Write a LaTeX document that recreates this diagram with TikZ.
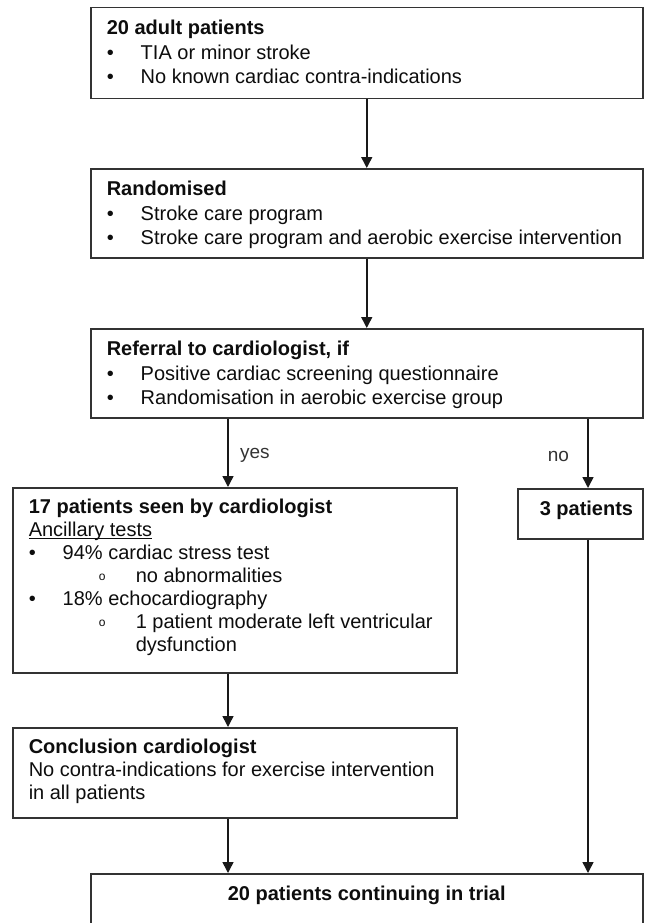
\documentclass[tikz,border=0pt]{standalone}
\usepackage{fontspec}
\setmainfont{Liberation Sans}
\usetikzlibrary{arrows.meta}

\newcommand{\bpt}{\makebox[34pt][l]{\textbullet}}
\newcommand{\spt}{\hspace*{70pt}\makebox[37pt][l]{\raisebox{2pt}{\fontsize{12}{12}\selectfont o}}}
\newcommand{\boxtext}[3]{\parbox[c][#2][t]{#1}{\raggedright\strut #3}}
\newcommand{\ultext}[1]{\underline{\raisebox{0pt}[\height][0pt]{#1}}}

\begin{document}
\begin{tikzpicture}[x=1pt, y=-1pt,
            box/.style={draw=black!80, line width=1.5pt, anchor=north west, inner xsep=16pt, inner ysep=10pt,
                        font=\fontsize{20}{24.5}\selectfont, text=black!95},
            lowbox/.style={box, font=\fontsize{20}{23}\selectfont},
            arr/.style={draw=black!90, line width=1.5pt, -{Triangle[length=11pt,width=11pt]}},
            lab/.style={font=\fontsize{19}{19}\selectfont, text=black!80}]
            \useasboundingbox (0,0) rectangle (653,923);
            \clip (0,0) rectangle (653,923);

            \node[box] (b1) at (90,7) {\boxtext{520pt}{71pt}{\textbf{20 adult patients}\\
                \bpt TIA or minor stroke\\
                \bpt No known cardiac contra-indications}};
            \node[box] (b2) at (90,168) {\boxtext{520pt}{69pt}{\textbf{Randomised}\\
                \bpt Stroke care program\\
                \bpt Stroke care program and aerobic exercise intervention}};
            \node[box] (b3) at (90,328) {\boxtext{520pt}{69pt}{\textbf{Referral to cardiologist, if}\\
                \bpt Positive cardiac screening questionnaire\\
                \bpt Randomisation in aerobic exercise group}};
            \node[lowbox] (b4) at (12,487) {\boxtext{412pt}{165pt}{\textbf{17 patients seen by cardiologist}\\
                \ultext{Ancillary tests}\\
                \bpt 94\% cardiac stress test\\
                \spt no abnormalities\\
                \bpt 18\% echocardiography\\
                \spt 1 patient moderate left ventricular\\
                \hspace*{107pt}dysfunction}};
            \node[box] (b5) at (517,488) {\boxtext{93pt}{30pt}{\mbox{\hspace*{6pt}\textbf{3 patients}}}};
            \node[lowbox] (b6) at (12,727) {\boxtext{412pt}{70pt}{\textbf{Conclusion cardiologist}\\
                No contra-indications for exercise intervention\\
                in all patients}};
            \node[box] (b7) at (90,873) {\boxtext{520pt}{50pt}{\centering\textbf{20 patients continuing in trial}}};

            \coordinate (yesx) at (228,0);
            \coordinate (nox) at (588,0);

            \draw[arr] (b1) -- (b2);
            \draw[arr] (b2) -- (b3);
            \draw[arr] (b3.south -| yesx) -- node[lab, right, xshift=8pt, yshift=-3pt] {yes} (b4.north -| yesx);
            \draw[arr] (b3.south -| nox) -- node[lab, left, xshift=-15pt, yshift=-3pt] {no} (b5.north -| nox);
            \draw[arr] (b4.south -| yesx) -- (b6.north -| yesx);
            \draw[arr] (b6.south -| yesx) -- (b7.north -| yesx);
            \draw[arr] (b5.south -| nox) -- (b7.north -| nox);
        \end{tikzpicture}
\end{document}
